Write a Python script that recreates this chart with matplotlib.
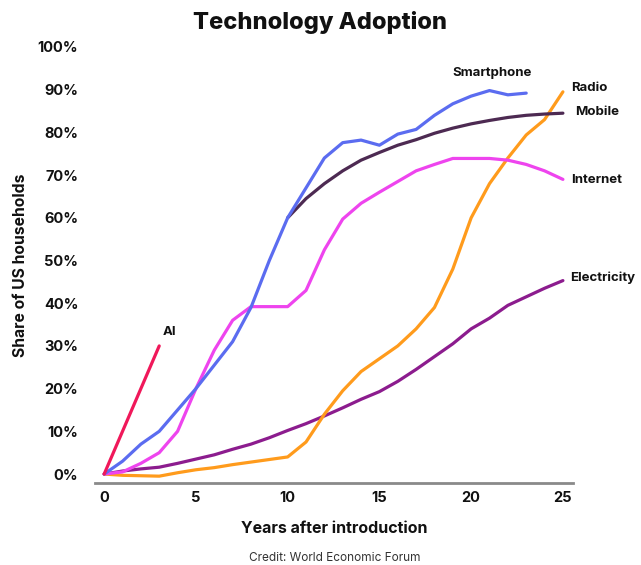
import numpy as np
import matplotlib
matplotlib.use("Agg")
import matplotlib.pyplot as plt

plt.rcParams['font.family'] = ['Inter', 'DejaVu Sans']

# Share of US households (%) by years after introduction
ai_years = [0, 3]
ai = [0, 30]

smartphone_years = list(range(0, 24))
smartphone = [0, 3, 7, 10, 15, 20, 25.5, 31, 39, 50, 60, 67, 74, 77.6, 78.2,
              77, 79.6, 80.7, 84, 86.7, 88.5, 89.8, 88.8, 89.2]

mobile_years = list(range(10, 26))
mobile = [60, 64.5, 68, 71, 73.5, 75.3, 77, 78.3, 79.8, 81, 82, 82.8, 83.5,
          84, 84.3, 84.5]

internet_years = list(range(0, 26))
internet = [0, 0.5, 2.5, 5, 10, 20, 29, 36, 39.2, 39.2, 39.2, 43, 52.5, 59.7,
            63.4, 66, 68.5, 71, 72.5, 73.9, 73.9, 73.9, 73.5, 72.5, 71, 69]

radio_years = list(range(0, 26))
radio = [0, -0.3, -0.4, -0.5, 0.3, 1, 1.5, 2.2, 2.8, 3.4, 4, 7.5, 14, 19.5,
         24, 27, 30, 34, 39, 48, 60, 68, 74, 79.4, 83, 89.5]

electricity_years = list(range(0, 26))
electricity = [0, 0.7, 1.2, 1.6, 2.5, 3.5, 4.5, 5.8, 7, 8.5, 10.2, 11.8, 13.6,
               15.5, 17.5, 19.3, 21.7, 24.5, 27.5, 30.5, 34, 36.5, 39.5, 41.5,
               43.5, 45.3]

x_ticks = [0, 5, 10, 15, 20, 25]
y_ticks = [0, 10, 20, 30, 40, 50, 60, 70, 80, 90, 100]

W, H = 641, 565
fig = plt.figure(figsize=(W / 100, H / 100), dpi=100)
ax = fig.add_axes([95 / W, 1 - 483 / H, (573 - 95) / W, (483 - 47) / H])

lw = 2.3
ax.plot(electricity_years, electricity, color="#8c1c8e", lw=lw, solid_capstyle="round")
ax.plot(radio_years, radio, color="#ff9b1c", lw=lw, solid_capstyle="round")
ax.plot(internet_years, internet, color="#ee44ee", lw=lw, solid_capstyle="round")
ax.plot(mobile_years, mobile, color="#4d2a52", lw=lw, solid_capstyle="round")
ax.plot(smartphone_years, smartphone, color="#5b6cf0", lw=lw, solid_capstyle="round")
ax.plot(ai_years, ai, color="#f0185a", lw=lw, solid_capstyle="round")

ax.set_xlim(-0.5, 25.55)
ax.set_ylim(-2.1, 100)

for s in ["top", "right", "left"]:
    ax.spines[s].set_visible(False)
ax.spines["bottom"].set_color("#8a8a8a")
ax.spines["bottom"].set_linewidth(2)

ax.set_xticks(x_ticks)
ax.set_xticklabels([str(v) for v in x_ticks])
ax.set_yticks(y_ticks)
ax.set_yticklabels([f"{v}%" for v in y_ticks])
ax.tick_params(axis="both", length=0, labelsize=10.5, colors="#111111")
ax.tick_params(axis="y", pad=12)
ax.tick_params(axis="x", pad=6)
for lab in ax.get_xticklabels() + ax.get_yticklabels():
    lab.set_fontweight("bold")

ax.set_xlabel("Years after introduction", fontsize=11.5, fontweight="bold",
              color="#111111", labelpad=11)
ax.set_ylabel("Share of US households", fontsize=11.3, fontweight="bold",
              color="#111111", labelpad=7)

# Series labels placed beside their lines
lab_kw = dict(fontsize=9.5, fontweight="bold", color="#111111", va="center")
ax.text(21.15, 94.0, "Smartphone", ha="center", **lab_kw)
ax.text(25.45, 90.3, "Radio", ha="left", **lab_kw)
ax.text(25.65, 84.8, "Mobile", ha="left", **lab_kw)
ax.text(25.45, 68.8, "Internet", ha="left", **lab_kw)
ax.text(25.4, 46.0, "Electricity", ha="left", **lab_kw)
ax.text(3.2, 33.3, "AI", ha="left", **lab_kw)

fig.text(320 / W, 1 - 22 / H, "Technology Adoption", ha="center", va="center",
         fontsize=17, fontweight="heavy", color="#111111")
fig.text(335 / W, 1 - 558 / H, "Credit: World Economic Forum", ha="center",
         va="center", fontsize=8.5, color="#333333")

fig.savefig("out.png", dpi=100, facecolor="white")
